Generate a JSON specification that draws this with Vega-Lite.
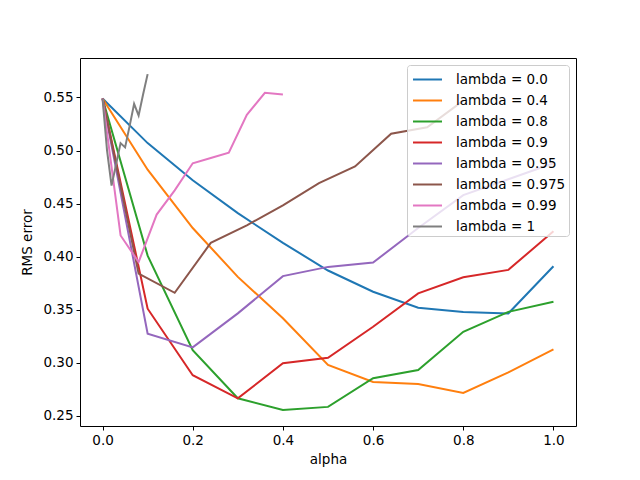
{
  "$schema": "https://vega.github.io/schema/vega-lite/v6.json",
  "width": 496,
  "height": 368,
  "autosize": {"type": "none"},
  "padding": {"left": 80, "top": 58, "right": 64, "bottom": 54},
  "background": "white",
  "config": {
    "font": "DejaVu Sans",
    "view": {"stroke": "black", "strokeWidth": 1},
    "axis": {
      "grid": false, "domain": false, "tickColor": "black", "tickSize": 4,
      "labelFontSize": 13.5, "labelColor": "black", "titleFontSize": 13.5,
      "titleFontWeight": "normal", "titleColor": "black", "labelPadding": 3
    },
    "legend": {
      "labelFontSize": 13.5, "labelColor": "black", "fillColor": "rgba(255,255,255,0.8)",
      "strokeColor": "#cccccc", "cornerRadius": 3, "padding": 3, "rowPadding": 3,
      "labelOffset": 17, "symbolOffset": 6, "symbolType": "M-1.38,0H1.38", "symbolSize": 441, "symbolStrokeWidth": 2
    }
  },
  "data": {"values": [
    {"s": "lambda = 0.0", "a": 0.0, "r": 0.549},
    {"s": "lambda = 0.0", "a": 0.1, "r": 0.507},
    {"s": "lambda = 0.0", "a": 0.2, "r": 0.472},
    {"s": "lambda = 0.0", "a": 0.3, "r": 0.441},
    {"s": "lambda = 0.0", "a": 0.4, "r": 0.413},
    {"s": "lambda = 0.0", "a": 0.5, "r": 0.387},
    {"s": "lambda = 0.0", "a": 0.6, "r": 0.367},
    {"s": "lambda = 0.0", "a": 0.7, "r": 0.352},
    {"s": "lambda = 0.0", "a": 0.8, "r": 0.348},
    {"s": "lambda = 0.0", "a": 0.9, "r": 0.3466},
    {"s": "lambda = 0.0", "a": 1.0, "r": 0.391},

    {"s": "lambda = 0.4", "a": 0.0, "r": 0.549},
    {"s": "lambda = 0.4", "a": 0.1, "r": 0.482},
    {"s": "lambda = 0.4", "a": 0.2, "r": 0.427},
    {"s": "lambda = 0.4", "a": 0.3, "r": 0.381},
    {"s": "lambda = 0.4", "a": 0.4, "r": 0.342},
    {"s": "lambda = 0.4", "a": 0.5, "r": 0.298},
    {"s": "lambda = 0.4", "a": 0.6, "r": 0.282},
    {"s": "lambda = 0.4", "a": 0.7, "r": 0.280},
    {"s": "lambda = 0.4", "a": 0.8, "r": 0.2716},
    {"s": "lambda = 0.4", "a": 0.9, "r": 0.291},
    {"s": "lambda = 0.4", "a": 1.0, "r": 0.3127},

    {"s": "lambda = 0.8", "a": 0.0, "r": 0.549},
    {"s": "lambda = 0.8", "a": 0.1, "r": 0.401},
    {"s": "lambda = 0.8", "a": 0.2, "r": 0.312},
    {"s": "lambda = 0.8", "a": 0.3, "r": 0.2666},
    {"s": "lambda = 0.8", "a": 0.4, "r": 0.2556},
    {"s": "lambda = 0.8", "a": 0.5, "r": 0.2585},
    {"s": "lambda = 0.8", "a": 0.6, "r": 0.2855},
    {"s": "lambda = 0.8", "a": 0.7, "r": 0.2933},
    {"s": "lambda = 0.8", "a": 0.8, "r": 0.3293},
    {"s": "lambda = 0.8", "a": 0.9, "r": 0.348},
    {"s": "lambda = 0.8", "a": 1.0, "r": 0.3575},

    {"s": "lambda = 0.9", "a": 0.0, "r": 0.549},
    {"s": "lambda = 0.9", "a": 0.1, "r": 0.351},
    {"s": "lambda = 0.9", "a": 0.2, "r": 0.2883},
    {"s": "lambda = 0.9", "a": 0.3, "r": 0.2666},
    {"s": "lambda = 0.9", "a": 0.4, "r": 0.2996},
    {"s": "lambda = 0.9", "a": 0.5, "r": 0.3048},
    {"s": "lambda = 0.9", "a": 0.6, "r": 0.334},
    {"s": "lambda = 0.9", "a": 0.7, "r": 0.3654},
    {"s": "lambda = 0.9", "a": 0.8, "r": 0.3807},
    {"s": "lambda = 0.9", "a": 0.9, "r": 0.3876},
    {"s": "lambda = 0.9", "a": 1.0, "r": 0.424},

    {"s": "lambda = 0.95", "a": 0.0, "r": 0.549},
    {"s": "lambda = 0.95", "a": 0.1, "r": 0.3274},
    {"s": "lambda = 0.95", "a": 0.2, "r": 0.3146},
    {"s": "lambda = 0.95", "a": 0.3, "r": 0.3466},
    {"s": "lambda = 0.95", "a": 0.4, "r": 0.3817},
    {"s": "lambda = 0.95", "a": 0.5, "r": 0.3904},
    {"s": "lambda = 0.95", "a": 0.6, "r": 0.3945},
    {"s": "lambda = 0.95", "a": 0.7, "r": 0.427},
    {"s": "lambda = 0.95", "a": 0.8, "r": 0.458},
    {"s": "lambda = 0.95", "a": 0.9, "r": 0.473},
    {"s": "lambda = 0.95", "a": 1.0, "r": 0.488},

    {"s": "lambda = 0.975", "a": 0.0, "r": 0.549},
    {"s": "lambda = 0.975", "a": 0.08, "r": 0.384},
    {"s": "lambda = 0.975", "a": 0.16, "r": 0.366},
    {"s": "lambda = 0.975", "a": 0.24, "r": 0.413},
    {"s": "lambda = 0.975", "a": 0.32, "r": 0.4296},
    {"s": "lambda = 0.975", "a": 0.4, "r": 0.4484},
    {"s": "lambda = 0.975", "a": 0.48, "r": 0.4694},
    {"s": "lambda = 0.975", "a": 0.56, "r": 0.485},
    {"s": "lambda = 0.975", "a": 0.64, "r": 0.5159},
    {"s": "lambda = 0.975", "a": 0.72, "r": 0.522},
    {"s": "lambda = 0.975", "a": 0.8, "r": 0.547},

    {"s": "lambda = 0.99", "a": 0.0, "r": 0.549},
    {"s": "lambda = 0.99", "a": 0.04, "r": 0.420},
    {"s": "lambda = 0.99", "a": 0.08, "r": 0.395},
    {"s": "lambda = 0.99", "a": 0.12, "r": 0.4397},
    {"s": "lambda = 0.99", "a": 0.16, "r": 0.4625},
    {"s": "lambda = 0.99", "a": 0.2, "r": 0.488},
    {"s": "lambda = 0.99", "a": 0.24, "r": 0.493},
    {"s": "lambda = 0.99", "a": 0.28, "r": 0.498},
    {"s": "lambda = 0.99", "a": 0.32, "r": 0.5337},
    {"s": "lambda = 0.99", "a": 0.36, "r": 0.5544},
    {"s": "lambda = 0.99", "a": 0.4, "r": 0.5528},

    {"s": "lambda = 1", "a": 0.0, "r": 0.549},
    {"s": "lambda = 1", "a": 0.01, "r": 0.500},
    {"s": "lambda = 1", "a": 0.02, "r": 0.467},
    {"s": "lambda = 1", "a": 0.03, "r": 0.487},
    {"s": "lambda = 1", "a": 0.04, "r": 0.507},
    {"s": "lambda = 1", "a": 0.05, "r": 0.503},
    {"s": "lambda = 1", "a": 0.06, "r": 0.523},
    {"s": "lambda = 1", "a": 0.07, "r": 0.544},
    {"s": "lambda = 1", "a": 0.08, "r": 0.533},
    {"s": "lambda = 1", "a": 0.09, "r": 0.553},
    {"s": "lambda = 1", "a": 0.1, "r": 0.572}
  ]},
  "mark": {"type": "line", "strokeWidth": 2, "clip": true},
  "encoding": {
    "x": {"field": "a", "type": "quantitative", "title": "alpha",
      "scale": {"domain": [-0.05, 1.05], "nice": false, "zero": false},
      "axis": {"values": [0, 0.2, 0.4, 0.6, 0.8, 1.0], "format": ".1f", "titlePadding": 6}},
    "y": {"field": "r", "type": "quantitative", "title": "RMS error",
      "scale": {"domain": [0.2405, 0.5872], "nice": false, "zero": false},
      "axis": {"values": [0.25, 0.3, 0.35, 0.4, 0.45, 0.5, 0.55], "format": ".2f", "titlePadding": 8}},
    "color": {"field": "s", "type": "nominal",
      "scale": {"domain": ["lambda = 0.0", "lambda = 0.4", "lambda = 0.8", "lambda = 0.9", "lambda = 0.95", "lambda = 0.975", "lambda = 0.99", "lambda = 1"],
        "range": ["#1f77b4", "#ff7f0e", "#2ca02c", "#d62728", "#9467bd", "#8c564b", "#e377c2", "#7f7f7f"]},
      "legend": {"title": null, "orient": "top-right", "offset": 7}},
    "order": {"field": "a", "type": "quantitative"}
  }
}
